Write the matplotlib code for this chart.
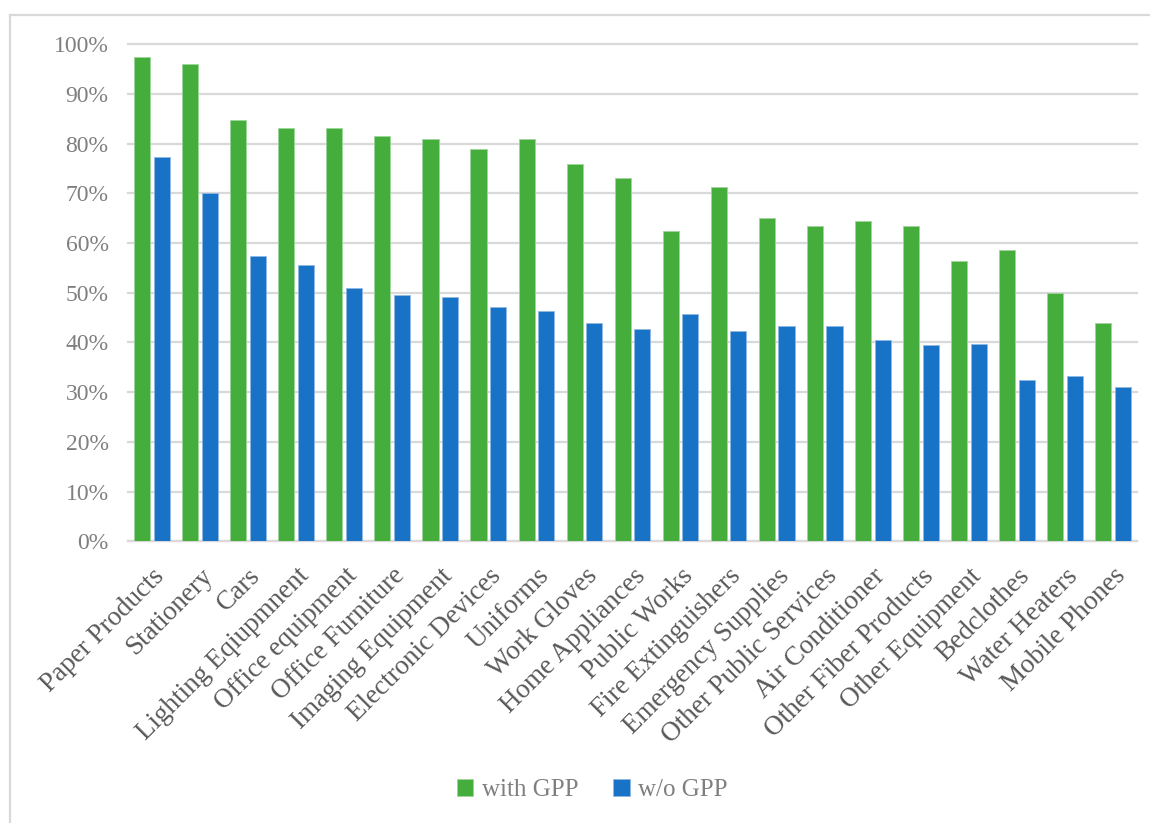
import matplotlib
matplotlib.use("Agg")
import matplotlib.pyplot as plt
from matplotlib.lines import Line2D
from matplotlib.ticker import PercentFormatter
import numpy as np

categories = [
    "Paper Products", "Stationery", "Cars", "Lighting Eqiupmnent",
    "Office equipment", "Office Furniture", "Imaging Equipment",
    "Electronic Devices", "Uniforms", "Work Gloves", "Home Appliances",
    "Public Works", "Fire Extinguishers", "Emergency Supplies",
    "Other Public Services", "Air Conditioner", "Other Fiber Products",
    "Other Equipment", "Bedclothes", "Water Heaters", "Mobile Phones",
]
with_gpp = [97.4, 96.0, 84.8, 83.1, 83.2, 81.6, 80.9, 78.9, 80.9, 76.0, 73.1,
            62.5, 71.2, 65.0, 63.4, 64.4, 63.5, 56.4, 58.6, 50.0, 43.9]
without_gpp = [77.4, 70.1, 57.4, 55.5, 51.0, 49.6, 49.2, 47.1, 46.3, 43.9, 42.7,
               45.7, 42.3, 43.3, 43.3, 40.6, 39.4, 39.7, 32.4, 33.2, 31.0]
series_names = ["with GPP", "w/o GPP"]

GREEN = "#44AD3B"
BLUE = "#1872C6"
GRID = "#D9D9D9"

plt.rcParams["font.family"] = ["Liberation Serif", "DejaVu Serif"]

fig = plt.figure(figsize=(11.5, 8.23), dpi=100)
ax = fig.add_axes([0.1113, 0.3423, 0.8774, 0.6039])

x = np.arange(len(categories))
w = 0.335
ax.bar(x - 0.205, np.array(with_gpp) / 100, width=w, color=GREEN,
       edgecolor="#9ED59A", linewidth=0.6, label=series_names[0], zorder=3)
ax.bar(x + 0.205, np.array(without_gpp) / 100, width=w, color=BLUE,
       edgecolor="#8DB8E3", linewidth=0.6, label=series_names[1], zorder=3)

ax.set_xlim(-0.5, len(categories) - 0.5)
ax.set_ylim(0, 1.0)
ax.set_yticks(np.arange(0, 1.01, 0.1))
ax.yaxis.set_major_formatter(PercentFormatter(1.0, decimals=0))
ax.grid(axis="y", color=GRID, linewidth=1.6, zorder=0)
ax.grid(axis="x", visible=False)
for s in ["top", "right", "left"]:
    ax.spines[s].set_visible(False)
ax.spines["bottom"].set_color(GRID)
ax.spines["bottom"].set_linewidth(1.6)
for gl in ax.get_ygridlines():
    gl.set_clip_on(False)

ax.tick_params(axis="y", length=0, pad=14, labelsize=17, labelcolor="#7F7F7F")
ax.tick_params(axis="x", length=0, pad=16)
ax.set_xticks(x)
ax.set_xticklabels(categories, rotation=45, ha="right", va="top",
                   rotation_mode="anchor", fontsize=19.5, color="#595959")

leg = fig.legend(loc="center", bbox_to_anchor=(0.515, 0.040), ncol=2,
                 frameon=False, fontsize=18, handlelength=0.65,
                 handleheight=0.65, handletextpad=0.35, columnspacing=1.4)
for t in leg.get_texts():
    t.set_color("#7F7F7F")

# Outer chart frame (top and left edges)
fig.add_artist(Line2D([10 / 1150, 1.0], [1 - 15 / 823, 1 - 15 / 823],
                      transform=fig.transFigure, color=GRID, linewidth=1.6))
fig.add_artist(Line2D([10 / 1150, 10 / 1150], [0.0, 1 - 15 / 823],
                      transform=fig.transFigure, color=GRID, linewidth=1.6))

fig.savefig("out.png", dpi=100, facecolor="white")
